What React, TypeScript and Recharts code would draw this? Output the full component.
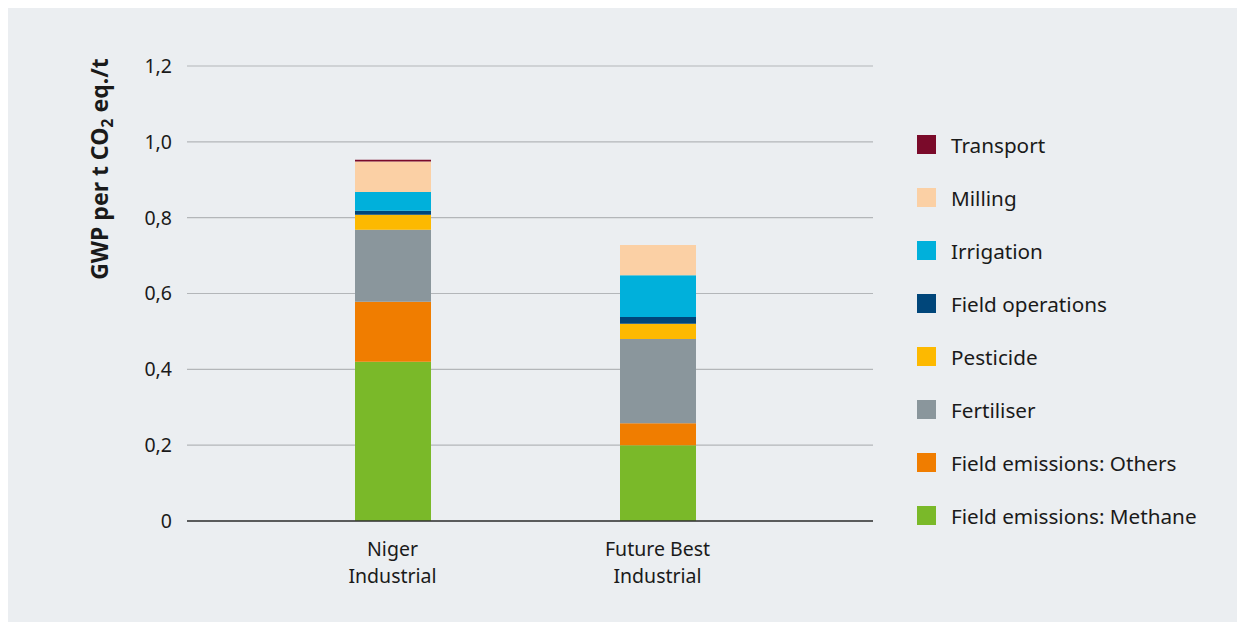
import React from "react";
import { BarChart, Bar, XAxis, YAxis, CartesianGrid } from "recharts";

const categories = ["Niger\nIndustrial", "Future Best\nIndustrial"];
const methane = [0.42, 0.2];
const others = [0.158, 0.058];
const fertiliser = [0.19, 0.222];
const pesticide = [0.04, 0.04];
const fieldOps = [0.01, 0.018];
const irrigation = [0.05, 0.11];
const milling = [0.08, 0.08];
const transport = [0.005, 0];
const yTicks = [0, 0.2, 0.4, 0.6, 0.8, 1.0, 1.2];

const series = [
  { key: "methane", name: "Field emissions: Methane", values: methane, color: "#7ab929" },
  { key: "others", name: "Field emissions: Others", values: others, color: "#f07d00" },
  { key: "fertiliser", name: "Fertiliser", values: fertiliser, color: "#8a969c" },
  { key: "pesticide", name: "Pesticide", values: pesticide, color: "#fdb900" },
  { key: "fieldOps", name: "Field operations", values: fieldOps, color: "#00467a" },
  { key: "irrigation", name: "Irrigation", values: irrigation, color: "#00b0db" },
  { key: "milling", name: "Milling", values: milling, color: "#fbd0a5" },
  { key: "transport", name: "Transport", values: transport, color: "#7a0a2a" },
];

const data = categories.map((c, i) => {
  const row: any = { category: c };
  series.forEach((s) => (row[s.key] = s.values[i]));
  return row;
});

const FONT = "'Noto Sans', sans-serif";

const XTick = (props: any) => {
  const { x, y, payload } = props;
  const lines = String(payload.value).split("\n");
  return (
    <g>
      {lines.map((l, i) => (
        <text key={i} x={x} y={y + 27 + i * 27} textAnchor="middle" fill="#1a1a1a" fontSize={19.5} fontFamily={FONT}>
          {l}
        </text>
      ))}
    </g>
  );
};

export default function App() {
  const legendItems = [...series].reverse();
  return (
    <div style={{ position: "relative", width: 1229, height: 614, background: "#ebeef1", fontFamily: FONT }}>
      <BarChart
        width={1229}
        height={614}
        data={data}
        margin={{ top: 58, right: 364, bottom: 71, left: 0 }}
        barSize={76}
      >
        <CartesianGrid horizontal vertical={false} stroke="#b3b6b9" strokeWidth={1.2} />
        <XAxis
          dataKey="category"
          tick={<XTick />}
          tickLine={false}
          axisLine={{ stroke: "#333", strokeWidth: 1.5 }}
          padding={{ left: 73, right: 83 }}
          interval={0}
        />
        <YAxis
          width={179}
          domain={[0, 1.2]}
          ticks={yTicks}
          tickLine={false}
          axisLine={false}
          tickSize={0}
          tickMargin={15}
          tickFormatter={(v: number) => (v === 0 ? "0" : v.toFixed(1).replace(".", ","))}
          tick={{ fill: "#1a1a1a", fontSize: 19.5, fontFamily: FONT }}
        />
        {series.map((s) => (
          <Bar key={s.key} dataKey={s.key} name={s.name} stackId="a" fill={s.color} isAnimationActive={false} />
        ))}
      </BarChart>
      <svg style={{ position: "absolute", left: 0, top: 0 }} width={200} height={614}>
        <text
          transform="translate(100,161) rotate(-90)"
          textAnchor="middle"
          fontSize={23}
          fontWeight="bold"
          fill="#1a1a1a"
          fontFamily={FONT}
        >
          GWP per t CO
          <tspan fontSize={16} dy={5}>2</tspan>
          <tspan dy={-5}> eq./t</tspan>
        </text>
      </svg>
      <div style={{ position: "absolute", left: 909, top: 110 }}>
        {legendItems.map((s) => (
          <div key={s.key} style={{ display: "flex", alignItems: "center", height: 53 }}>
            <div style={{ width: 19, height: 19, background: s.color, marginRight: 15 }} />
            <span style={{ fontSize: 20.7, color: "#1a1a1a", fontFamily: FONT }}>{s.name}</span>
          </div>
        ))}
      </div>
    </div>
  );
}
